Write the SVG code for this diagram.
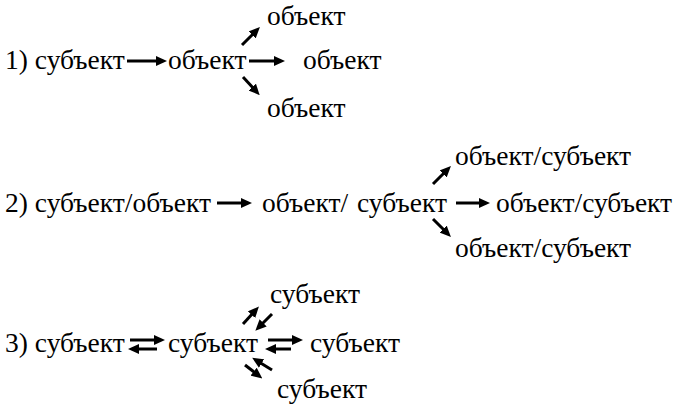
<svg xmlns="http://www.w3.org/2000/svg" width="683" height="404" viewBox="0 0 683 404">
  <defs>
    <style>
      text { font-family: 'Liberation Serif', 'DejaVu Serif', 'Times New Roman', Times, serif; font-size: 27.5px; fill: #000; }
      .a { stroke: #000; stroke-width: 3; fill: none; marker-end: url(#head); }
    </style>
    <marker id="head" viewBox="0 0 11 10" refX="3" refY="5" markerWidth="11" markerHeight="10" markerUnits="userSpaceOnUse" orient="auto">
      <path d="M0,0 L11,5 L0,10 z" fill="#000"/>
    </marker>
  </defs>
  <rect width="683" height="404" fill="#fff"/>

  <!-- row 1 -->
  <g id="r1-subject"><text x="5" y="69">1) субъект</text></g>
  <g id="r1-object"><text x="168" y="69">объект</text></g>
  <g id="r1-object-up"><text x="267" y="25">объект</text></g>
  <g id="r1-object-mid"><text x="303" y="69">объект</text></g>
  <g id="r1-object-down"><text x="267" y="117">объект</text></g>

  <!-- row 2 -->
  <g id="r2-subject"><text x="5" y="212">2) субъект/объект</text></g>
  <g id="r2-object"><text x="262" y="212">объект/<tspan x="357">субъект</tspan></text></g>
  <g id="r2-object-up"><text x="455" y="165">объект/субъект</text></g>
  <g id="r2-object-mid"><text x="496" y="212">объект/субъект</text></g>
  <g id="r2-object-down"><text x="455" y="257">объект/субъект</text></g>

  <!-- row 3 -->
  <g id="r3-subject"><text x="5" y="352">3) субъект</text></g>
  <g id="r3-subject-hub"><text x="168" y="352">субъект</text></g>
  <g id="r3-subject-up"><text x="270" y="303">субъект</text></g>
  <g id="r3-subject-mid"><text x="310" y="352">субъект</text></g>
  <g id="r3-subject-down"><text x="277" y="398">субъект</text></g>

  <g id="connectors">
    <!-- row 1 -->
    <line class="a" x1="127" y1="61" x2="159" y2="61"/>
    <line class="a" x1="249" y1="61" x2="277" y2="61"/>
    <line class="a" x1="242" y1="45" x2="254.3" y2="32.7"/>
    <line class="a" x1="243" y1="77" x2="254.3" y2="89.3"/>

    <!-- row 2 -->
    <line class="a" x1="217" y1="203" x2="244" y2="203"/>
    <line class="a" x1="456" y1="203" x2="482" y2="203"/>
    <line class="a" x1="433" y1="184" x2="445.3" y2="171.7"/>
    <line class="a" x1="433" y1="219" x2="445.3" y2="231.3"/>

    <!-- row 3: paired arrows in both directions -->
    <line class="a" x1="130" y1="340" x2="157" y2="340"/>
    <line class="a" x1="157" y1="349" x2="136" y2="349"/>
    <line class="a" x1="268" y1="340" x2="295" y2="340"/>
    <line class="a" x1="291" y1="349" x2="273" y2="349"/>
    <line class="a" x1="243" y1="324" x2="253.5" y2="312.5"/>
    <line class="a" x1="272" y1="314" x2="261" y2="325"/>
    <line class="a" x1="245" y1="365" x2="256" y2="373.5"/>
    <line class="a" x1="272" y1="370" x2="259" y2="362"/>
  </g>
</svg>
